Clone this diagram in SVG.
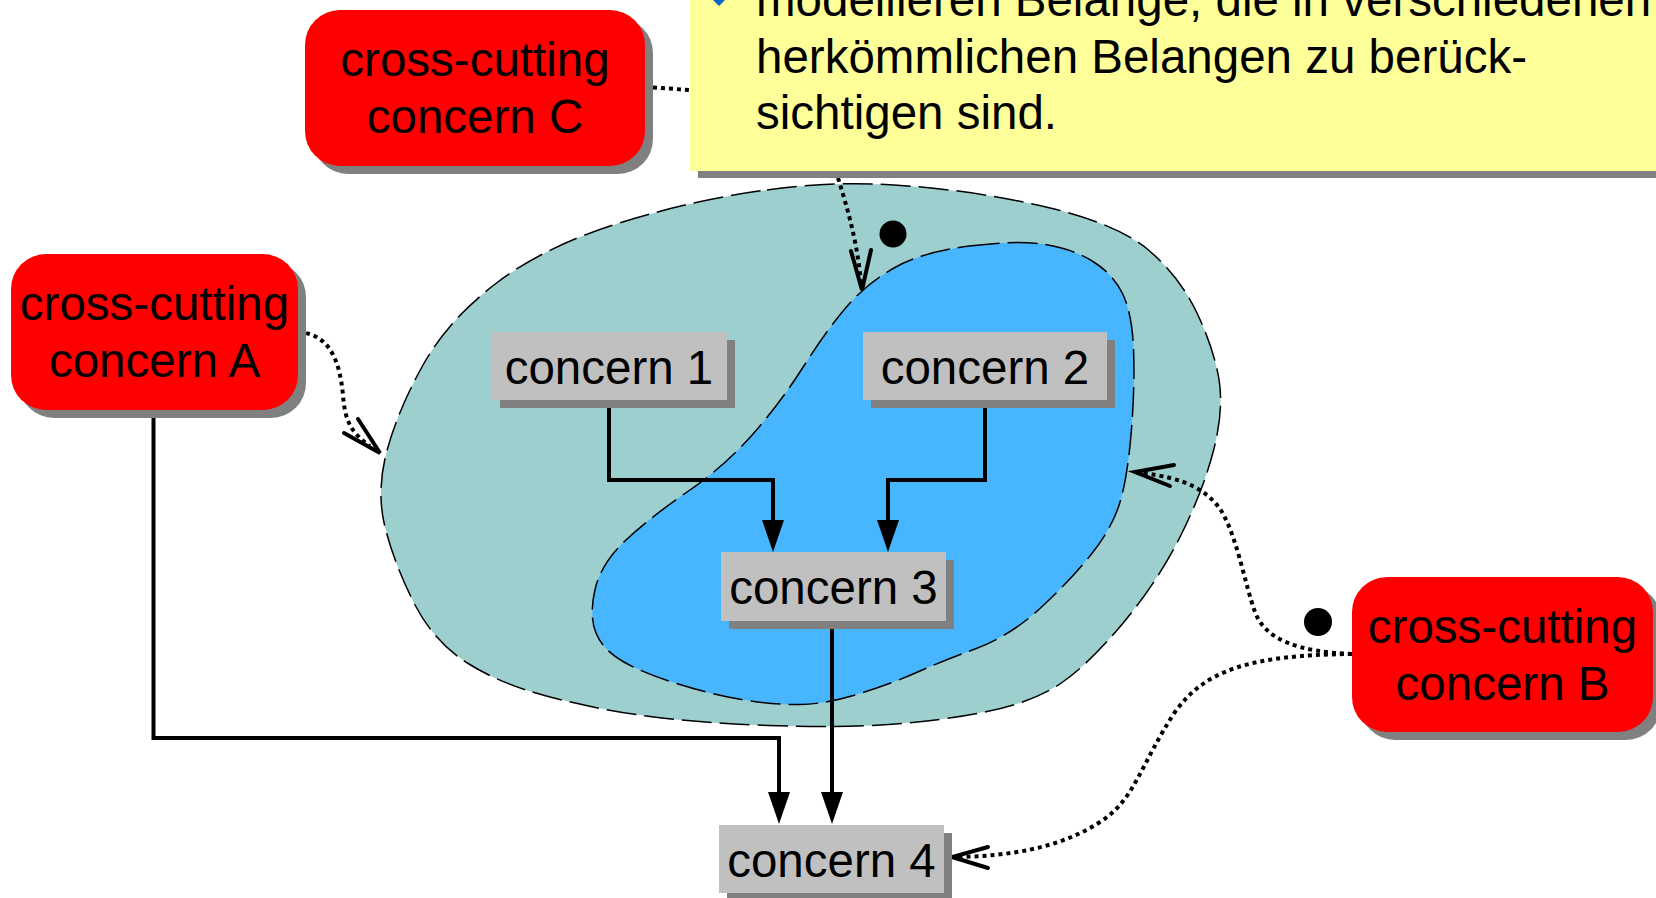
<svg xmlns="http://www.w3.org/2000/svg" width="1656" height="898" viewBox="0 0 1656 898">
  <style>
    text { font-family: "Liberation Sans", Arial, sans-serif; font-size: 47.5px; fill: #000; }
    .mid { text-anchor: middle; }
    .shadow { fill: #808080; }
    .cc { fill: #FF0000; }
    .concern { fill: #C0C0C0; }
    .note { fill: #FFFF99; }
    .blob { stroke: #000; stroke-width: 1.5; stroke-dasharray: 30 8; }
    .solid { fill: none; stroke: #000; stroke-width: 4; stroke-linejoin: miter; }
    .dotted { fill: none; stroke: #000; stroke-width: 4; stroke-dasharray: 4 4; }
    .vhead { fill: none; stroke: #000; stroke-width: 4; stroke-linecap: round; stroke-linejoin: miter; }
  </style>
  <defs>
    <marker id="arrow" markerUnits="userSpaceOnUse" markerWidth="32" markerHeight="22" viewBox="0 0 32 22" refX="0" refY="11" orient="auto">
      <path d="M0,0 L32,11 L0,22 Z" fill="#000"/>
    </marker>
  </defs>

  <rect width="1656" height="898" fill="#FFFFFF"/>

  <!-- outer and inner regions -->
  <g id="regions">
    <path id="outer-region" class="blob" fill="#9DCFCF" d="M767,190 Q837,180 907.5,186 Q978,191 1048,207.5 Q1118,224 1149,250.5 Q1180,277 1197,313 Q1214,349 1219,379.5 Q1224,410 1213.5,450.5 Q1203,491 1180.5,536 Q1158,581 1124,622 Q1090,663 1062,682.5 Q1034,702 987,711.5 Q940,721 888.5,724.5 Q837,728 768.5,725.5 Q700,723 650,716.5 Q600,710 550,697 Q500,684 466.5,662.5 Q433,641 413.5,602 Q394,563 385,527 Q376,491 387,450.5 Q398,410 423,365 Q448,320 496.5,283 Q545,246 621,222.5 Q697,199 767,190 Z"/>
    <path id="inner-region" class="blob" fill="#48B6FF" d="M969.5,246 Q1017,240 1045,244.5 Q1073,249 1093,261.5 Q1113,274 1122.5,293.5 Q1132,313 1133.5,348.5 Q1135,384 1131.5,429 Q1128,474 1120.5,500.5 Q1113,527 1091.5,554 Q1070,581 1040,608.5 Q1010,636 975,649 Q940,662 916.5,672.5 Q893,683 860,693.5 Q827,704 800,704.5 Q773,705 741.5,699.5 Q710,694 676.5,683.5 Q643,673 623,661.5 Q603,650 596,633 Q589,616 595,589.5 Q601,563 626.5,539.5 Q652,516 688.5,491 Q725,466 753,434 Q781,402 803.5,366.5 Q826,331 846,307.5 Q866,284 894,268 Q922,252 969.5,246 Z"/>
  </g>

  <!-- join-point markers -->
  <g id="joinpoints">
    <circle cx="893" cy="234" r="13.5" fill="#000"/>
    <circle cx="1318" cy="622" r="14" fill="#000"/>
  </g>

  <!-- connectors -->
  <g id="connectors">
    <path class="solid" d="M609,400 V480 H773 V520" marker-end="url(#arrow)"/>
    <path class="solid" d="M985,400 V480 H888 V520" marker-end="url(#arrow)"/>
    <path class="solid" d="M832,621 V792" marker-end="url(#arrow)"/>
    <path class="solid" d="M153.5,410 V738 H779 V792" marker-end="url(#arrow)"/>

    <path class="dotted" d="M645,87 L690,90"/>
    <path class="dotted" d="M838,178 C848,210 858,245 861,284"/>
    <polyline class="vhead" points="851,251 862,290 871,250"/>

    <path class="dotted" d="M298,332 C332,334 340,365 343,395 C345,420 350,432 370,446"/>
    <polyline class="vhead" points="344,433 380,453 358,419"/>

    <path class="dotted" d="M1352,654 C1300,652 1265,640 1255,612 C1245,585 1238,540 1222,512 C1208,490 1185,478 1142,473"/>
    <polyline class="vhead" points="1174,465 1135,472 1170,486"/>

    <path class="dotted" d="M1352,654 C1250,655 1205,670 1175,712 C1140,765 1135,800 1100,822 C1060,848 1010,856 958,857"/>
    <polyline class="vhead" points="988,847 952,857 988,868"/>
  </g>

  <!-- note -->
  <g id="note">
    <rect class="shadow" x="698" y="-20" width="1000" height="198"/>
    <rect class="note" x="690" y="-20" width="1000" height="191"/>
    <polygon points="712,-1 719,-8 726,-1 719,6" fill="#0A64C8"/>
    <text x="756" y="16">modellieren Belange, die in verschiedenen</text>
    <text x="756" y="73">herkömmlichen Belangen zu berück-</text>
    <text x="756" y="129">sichtigen sind.</text>
  </g>

  <!-- cross-cutting concerns -->
  <g id="cc-C">
    <rect class="shadow" x="313" y="18" width="340" height="156" rx="35"/>
    <rect class="cc" x="305" y="10" width="340" height="156" rx="35"/>
    <text class="mid" x="475" y="76">cross-cutting</text>
    <text class="mid" x="475" y="133">concern C</text>
  </g>
  <g id="cc-A">
    <rect class="shadow" x="19" y="262" width="287" height="156" rx="35"/>
    <rect class="cc" x="11" y="254" width="287" height="156" rx="35"/>
    <text class="mid" x="154.5" y="320">cross-cutting</text>
    <text class="mid" x="154.5" y="377">concern A</text>
  </g>
  <g id="cc-B">
    <rect class="shadow" x="1360" y="585" width="301" height="155" rx="35"/>
    <rect class="cc" x="1352" y="577" width="301" height="155" rx="35"/>
    <text class="mid" x="1502.5" y="643">cross-cutting</text>
    <text class="mid" x="1502.5" y="700">concern B</text>
  </g>

  <!-- concerns -->
  <g id="concern-1">
    <rect class="shadow" x="500" y="340" width="235" height="68"/>
    <rect class="concern" x="492" y="332" width="235" height="68"/>
    <text class="mid" x="609" y="384">concern 1</text>
  </g>
  <g id="concern-2">
    <rect class="shadow" x="871" y="340" width="244" height="68"/>
    <rect class="concern" x="863" y="332" width="244" height="68"/>
    <text class="mid" x="985" y="384">concern 2</text>
  </g>
  <g id="concern-3">
    <rect class="shadow" x="729" y="560" width="225" height="69"/>
    <rect class="concern" x="721" y="552" width="225" height="69"/>
    <text class="mid" x="833.5" y="604">concern 3</text>
  </g>
  <g id="concern-4">
    <rect class="shadow" x="727" y="833" width="225" height="68"/>
    <rect class="concern" x="719" y="825" width="225" height="68"/>
    <text class="mid" x="831.5" y="877">concern 4</text>
  </g>
</svg>
